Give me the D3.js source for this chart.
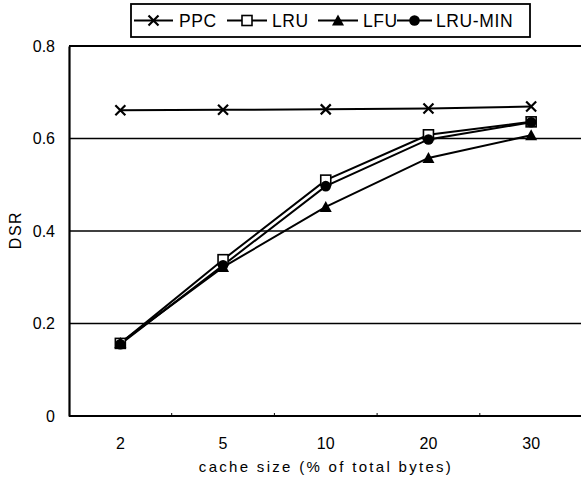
<!DOCTYPE html>
<html><head><meta charset="utf-8">
<script src="https://cdn.jsdelivr.net/npm/d3@7"></script>
<style>body{margin:0;background:#fff}svg{display:block}text{font-family:"Liberation Sans",Arial,sans-serif;fill:#000}</style>
</head><body><svg id="c" width="581" height="482"></svg>
<script>
const categories = ["2","5","10","20","30"];
const ppc = [0.661, 0.662, 0.663, 0.665, 0.669];
const lru = [0.157, 0.338, 0.510, 0.608, 0.636];
const lfu = [0.158, 0.322, 0.452, 0.558, 0.607];
const lruMin = [0.155, 0.326, 0.497, 0.598, 0.635];
const seriesNames = ["PPC","LRU","LFU","LRU-MIN"];
const yTicks = [0, 0.2, 0.4, 0.6, 0.8];

const svg = d3.select("#c");
const L = 69, R = 582.5, T = 46, B = 416;
const x = d3.scaleBand().domain(categories).range([L, R]);
const y = d3.scaleLinear().domain([0, 0.8]).range([B, T]);

// gridlines (including top frame at 0.8)
svg.append("g").selectAll("line").data(yTicks.filter(d => d > 0)).join("line")
  .attr("x1", L).attr("x2", 581).attr("y1", d => y(d)).attr("y2", d => y(d))
  .attr("stroke", "#000").attr("stroke-width", d => d === 0.8 ? 2 : 1.6);

// y axis
const ya = svg.append("g").attr("transform", `translate(${L},0)`)
  .call(d3.axisLeft(y).tickValues(yTicks).tickSize(0).tickPadding(14).tickFormat(d => d === 0 ? "0" : d3.format(".1f")(d)));
ya.select(".domain").attr("stroke", "#000").attr("stroke-width", 2.2);
ya.selectAll("text").attr("font-size", 16).attr("font-family", "Liberation Sans, Arial, sans-serif");

// x axis
const xa = svg.append("g").attr("transform", `translate(0,${B})`)
  .call(d3.axisBottom(x).tickSize(0).tickPadding(22));
xa.select(".domain").attr("stroke", "#000").attr("stroke-width", 2.2).attr("d", `M${L},0H581`);
xa.selectAll("text").attr("font-size", 16).attr("font-family", "Liberation Sans, Arial, sans-serif");
// small ticks between categories
svg.append("g").selectAll("line").data(categories.slice(1)).join("line")
  .attr("x1", d => x(d)).attr("x2", d => x(d)).attr("y1", B).attr("y2", B - 3)
  .attr("stroke", "#000").attr("stroke-width", 1);

svg.append("text").attr("x", 326).attr("y", 472).attr("text-anchor", "middle")
  .attr("font-size", 15).attr("letter-spacing", 2.3).text("cache size (% of total bytes)");
svg.append("text").attr("transform", "translate(21,230) rotate(-90)").attr("text-anchor", "middle")
  .attr("font-size", 16).attr("letter-spacing", 1.5).text("DSR");

const cx = c => x(c) + x.bandwidth() / 2;
const line = d3.line().x((d, i) => cx(categories[i])).y(d => y(d));

function marker(g, type, px, py) {
  if (type === "x") {
    g.append("path").attr("d", `M${px-5},${py-5}L${px+5},${py+5}M${px-5},${py+5}L${px+5},${py-5}`)
      .attr("stroke", "#000").attr("stroke-width", 2.2).attr("fill", "none");
  } else if (type === "sq") {
    g.append("rect").attr("x", px - 5).attr("y", py - 5).attr("width", 10).attr("height", 10)
      .attr("fill", "#fff").attr("stroke", "#000").attr("stroke-width", 1.6);
  } else if (type === "tri") {
    g.append("path").attr("d", `M${px},${py-6}L${px+6},${py+5}L${px-6},${py+5}Z`).attr("fill", "#000");
  } else if (type === "circ") {
    g.append("circle").attr("cx", px).attr("cy", py).attr("r", 5.3).attr("fill", "#000");
  }
}

const series = [
  {name: seriesNames[0], vals: ppc, m: "x"},
  {name: seriesNames[1], vals: lru, m: "sq"},
  {name: seriesNames[2], vals: lfu, m: "tri"},
  {name: seriesNames[3], vals: lruMin, m: "circ"}
];
series.forEach(s => {
  svg.append("path").attr("d", line(s.vals)).attr("fill", "none").attr("stroke", "#000").attr("stroke-width", 2);
});
series.forEach(s => {
  const g = svg.append("g");
  s.vals.forEach((v, i) => marker(g, s.m, cx(categories[i]), y(v)));
});

// legend
const lg = svg.append("g");
lg.append("rect").attr("x", 131).attr("y", 4).attr("width", 399).attr("height", 33)
  .attr("fill", "#fff").attr("stroke", "#000").attr("stroke-width", 1.8);
const legendItems = [
  {m: "x", x1: 134, x2: 173, tx: 179},
  {m: "sq", x1: 227, x2: 267, tx: 272},
  {m: "tri", x1: 318, x2: 358, tx: 363},
  {m: "circ", x1: 397, x2: 432, tx: 436}
];
legendItems.forEach((it, i) => {
  const ly = 20.5;
  lg.append("line").attr("x1", it.x1).attr("x2", it.x2).attr("y1", ly).attr("y2", ly).attr("stroke", "#000").attr("stroke-width", 1.8);
  marker(lg, it.m, (it.x1 + it.x2) / 2, ly);
  lg.append("text").attr("x", it.tx).attr("y", ly + 6.5).attr("font-size", 17.5).attr("letter-spacing", 0.6).text(seriesNames[i]);
});
</script></body></html>
